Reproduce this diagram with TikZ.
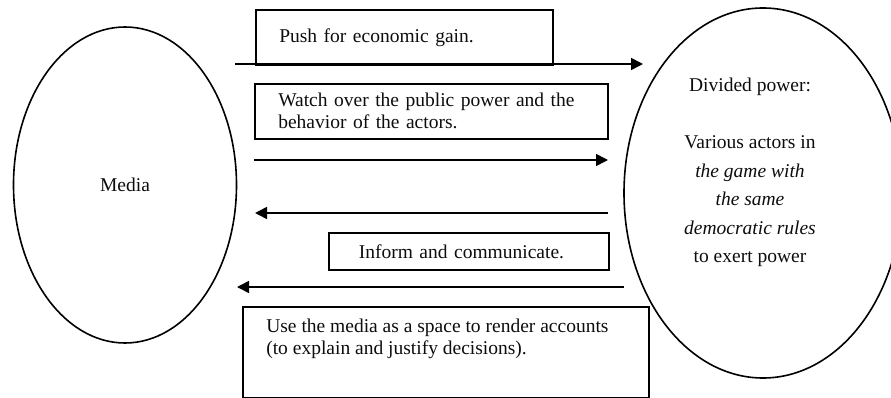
\documentclass[tikz,border=0pt]{standalone}
\usepackage{fontspec}
\setmainfont{Liberation Serif}
\usetikzlibrary{shapes.geometric,arrows.meta}
\begin{document}
\begin{tikzpicture}[x=1pt,y=-1pt,
  line width=1.6pt,
  every node/.style={font=\fontsize{19.5}{22}\selectfont, text=black!95},
  oval/.style={draw, ellipse, inner sep=0pt},
  labelbox/.style={draw, rectangle, inner xsep=23.5pt, inner ysep=0pt,
                   align=left, anchor=north west},
  flow/.style={-{Triangle[length=12pt,width=12pt]}, line width=1.6pt},
]
\clip (0,0) rectangle (891,398);

% the two actors
\node[oval, minimum width=223pt, minimum height=316pt] (media) at (125,185) {Media};
\node[oval, minimum width=278pt, minimum height=370pt] (power) at (763,193) {};
\node[align=center, font=\fontsize{19.5}{28.5}\selectfont] (powertext) at (750,172.5)
  {Divided power:\\[28.5pt]
   Various actors in\\
   \itshape the game with\\
   \itshape the same\\
   \itshape democratic rules\\
   to exert power};

% relations, media -> power
\node[labelbox, minimum height=55pt, text width=250pt] (gain) at (255,9)
  {Push for economic gain.};
\coordinate (gainfrom) at (235,64);
\coordinate (gainto) at (643,64);
\draw[flow] (gainfrom) -- (gainto);

\node[labelbox, minimum height=55pt, text width=306pt] (watch) at (254,83)
  {Watch over the public power and the\\behavior of the actors.};
\coordinate (watchfrom) at (254,160);
\coordinate (watchto) at (608,160);
\draw[flow] (watchfrom) -- (watchto);

% relations, power -> media
\coordinate (informfrom) at (608,213);
\coordinate (informto) at (255,213);
\draw[flow] (informfrom) -- (informto);
\node[labelbox, inner xsep=30pt, minimum height=37pt, text width=220pt] (inform) at (328,232)
  {Inform and communicate.};

\coordinate (accountfrom) at (624,287);
\coordinate (accountto) at (237,287);
\draw[flow] (accountfrom) -- (accountto);
\node[draw, rectangle, anchor=north west, minimum width=406pt, minimum height=91pt,
      inner sep=0pt] (account) at (242,306) {};
\node[anchor=north west, align=left, inner sep=0pt] (accounttext)
  at ([xshift=23.5pt,yshift=-12pt]account.north west)
  {Use the media as a space to render accounts\\(to explain and justify decisions).};
\end{tikzpicture}
\end{document}
